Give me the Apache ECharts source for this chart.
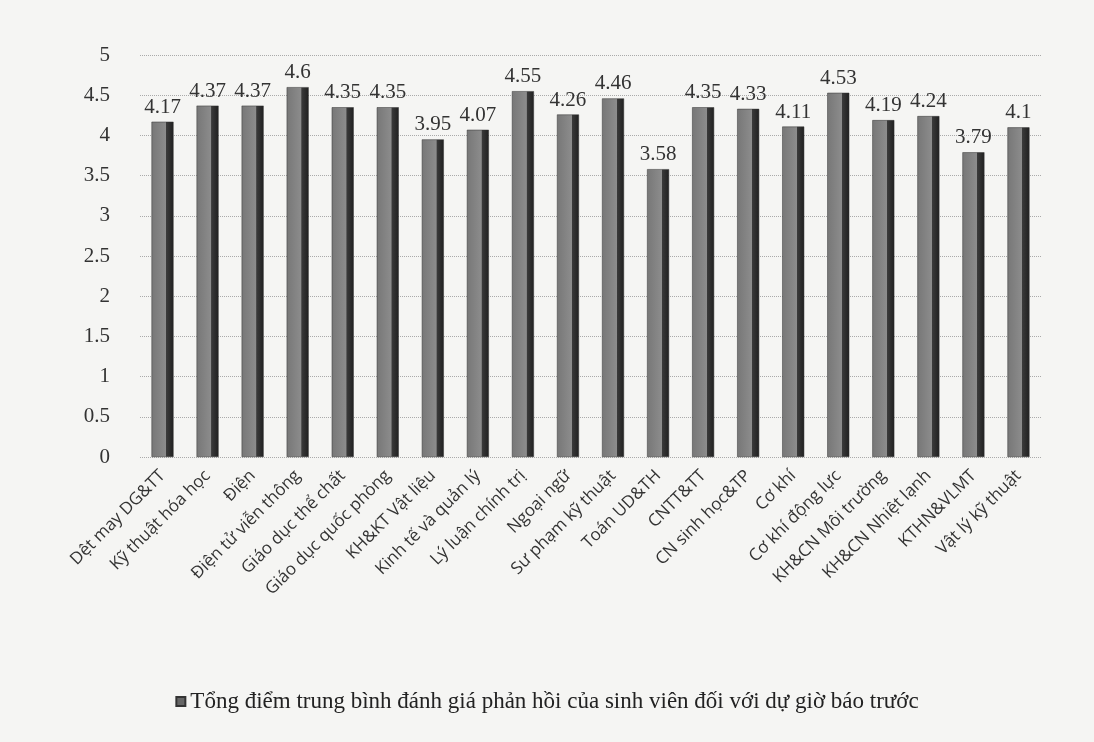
<!DOCTYPE html>
<html>
<head>
<meta charset="utf-8">
<script src="https://cdn.jsdelivr.net/npm/echarts@6/dist/echarts.min.js"></script>
<style>
  html, body { margin: 0; padding: 0; background: #f5f5f3; }
  #chart { width: 1094px; height: 742px; }
</style>
</head>
<body>
<div id="chart"></div>
<script>
  const categories = [
    'Dệt may DG&TT', 'Kỹ thuật hóa học', 'Điện', 'Điện tử viễn thông',
    'Giáo dục thể chất', 'Giáo dục quốc phòng', 'KH&KT Vật liệu', 'Kinh tế và quản lý',
    'Lý luận chính trị', 'Ngoại ngữ', 'Sư phạm kỹ thuật', 'Toán UD&TH',
    'CNTT&TT', 'CN sinh học&TP', 'Cơ khí', 'Cơ khí động lực',
    'KH&CN Môi trường', 'KH&CN Nhiệt lạnh', 'KTHN&VLMT', 'Vật lý kỹ thuật',
  ];
  const scores = [
    4.17, 4.37, 4.37, 4.6, 4.35, 4.35, 3.95, 4.07, 4.55, 4.26,
    4.46, 3.58, 4.35, 4.33, 4.11, 4.53, 4.19, 4.24, 3.79, 4.1,
  ];
  const seriesName = 'Tổng điểm trung bình đánh giá phản hồi của sinh viên đối với dự giờ báo trước';

  const chart = echarts.init(document.getElementById('chart'));

  const barColor = new echarts.graphic.LinearGradient(0, 0, 1, 0, [
    { offset: 0, color: '#777' },
    { offset: 0.66, color: '#8c8c8c' },
    { offset: 0.68, color: '#3a3a3a' },
    { offset: 1, color: '#202020' },
  ]);

  chart.setOption({
    backgroundColor: '#f5f5f3',
    animation: false,
    grid: { left: 140, right: 53, top: 55, bottom: 285 },
    legend: {
      bottom: 24,
      left: 'center',
      itemWidth: 9,
      itemHeight: 9,
      icon: 'rect',
      textStyle: { fontFamily: 'Liberation Serif', fontSize: 23, color: '#222' },
      data: [{ name: seriesName, itemStyle: { color: '#666' } }],
    },
    xAxis: {
      type: 'category',
      data: categories,
      axisLine: { show: false },
      axisTick: { show: false },
      axisLabel: {
        interval: 0,
        rotate: 45,
        margin: 16,
        fontFamily: 'Open Sans',
        fontSize: 17,
        color: '#333',
      },
    },
    yAxis: {
      type: 'value',
      min: 0,
      max: 5,
      interval: 0.5,
      axisLine: { show: false },
      axisTick: { show: false },
      axisLabel: {
        margin: 30,
        fontFamily: 'Liberation Serif',
        fontSize: 21,
        color: '#333',
      },
      splitLine: { lineStyle: { color: '#aaa', type: 'dotted' } },
    },
    series: [
      {
        name: seriesName,
        type: 'bar',
        data: scores,
        barWidth: 22,
        itemStyle: { color: barColor, borderColor: '#333', borderWidth: 0.5 },
        label: {
          show: true,
          position: 'top',
          distance: 4,
          fontFamily: 'Liberation Serif',
          fontSize: 21,
          color: '#333',
        },
      },
    ],
  });
</script>
</body>
</html>
